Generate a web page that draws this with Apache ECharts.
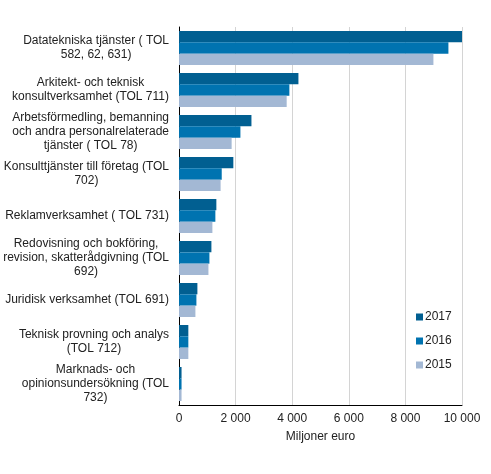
<!DOCTYPE html>
<html>
<head>
<meta charset="utf-8">
<script src="https://cdn.jsdelivr.net/npm/echarts@6/dist/echarts.min.js"></script>
<style>
  html, body { margin: 0; padding: 0; background: #fff; }
  #chart { width: 491px; height: 474px; }
</style>
</head>
<body>
<div id="chart"></div>
<script>
// Branscher (radbrytningar som i originalet)
const categories = [
    'Datatekniska tjänster ( TOL\n582, 62, 631)',
    'Arkitekt- och teknisk\nkonsultverksamhet (TOL 711)',
    'Arbetsförmedling, bemanning\noch andra personalrelaterade\ntjänster ( TOL 78)',
    'Konsulttjänster till företag (TOL\n702)',
    'Reklamverksamhet ( TOL 731)',
    'Redovisning och bokföring,\nrevision, skatterådgivning (TOL\n692)',
    'Juridisk verksamhet (TOL 691)',
    'Teknisk provning och analys\n(TOL 712)',
    'Marknads- och\nopinionsundersökning (TOL\n732)',
];

const years = ['2017', '2016', '2015'];

// Miljoner euro
const values2017 = [10000, 4220, 2560, 1920, 1320, 1145, 650, 330, 90];
const values2016 = [9520, 3900, 2170, 1510, 1285, 1075, 615, 330, 90];
const values2015 = [8990, 3805, 1860, 1470, 1180, 1040, 580, 330, 90];

const xTicks = [0, 2000, 4000, 6000, 8000, 10000];

const colors = ['#015f91', '#0073b0', '#a3b8d4'];

const chart = echarts.init(document.getElementById('chart'));

const fmt = v => String(v).replace(/\B(?=(\d{3})+(?!\d))/g, ' ');

const seriesData = [values2017, values2016, values2015];

chart.setOption({
    animation: false,
    textStyle: { fontFamily: 'Liberation Sans, Arial, sans-serif' },
    grid: { left: 179, right: 29, top: 27, bottom: 69 },
    legend: {
        data: years,
        orient: 'vertical',
        left: 411,
        top: 306,
        itemWidth: 7,
        itemHeight: 7,
        itemGap: 12,
        icon: 'rect',
        textStyle: { color: '#222', fontSize: 12, padding: [0, 0, 0, -3] },
    },
    xAxis: {
        type: 'value',
        min: xTicks[0],
        max: xTicks[xTicks.length - 1],
        interval: 2000,
        name: 'Miljoner euro',
        nameLocation: 'middle',
        nameGap: 26,
        nameTextStyle: { color: '#222', fontSize: 12 },
        axisLine: { show: true, lineStyle: { color: '#000', width: 1 } },
        axisTick: { show: false },
        axisLabel: { color: '#222', fontSize: 12, margin: 8, formatter: fmt },
        splitLine: { show: true, lineStyle: { color: '#d4d4d4', width: 1 } },
    },
    yAxis: {
        type: 'category',
        data: categories,
        inverse: true,
        axisLine: { show: true, lineStyle: { color: '#000', width: 1 } },
        axisTick: { show: false },
        axisLabel: {
            color: '#222',
            fontSize: 12,
            lineHeight: 14,
            margin: 10,
            align: 'right',
            // rader centrerade inom blocket, blocket högerjusterat mot axeln
            formatter: v => v.split('\n').map(l => '{c|' + l + '}').join('\n'),
            rich: {
                c: { align: 'center', color: '#222', fontSize: 12, lineHeight: 14 },
            },
        },
        splitLine: { show: false },
    },
    series: years.map((y, i) => ({
        name: y,
        type: 'bar',
        data: seriesData[i],
        barGap: '0%',
        barCategoryGap: '19%',
        itemStyle: { color: colors[i] },
    })),
});
</script>
</body>
</html>
